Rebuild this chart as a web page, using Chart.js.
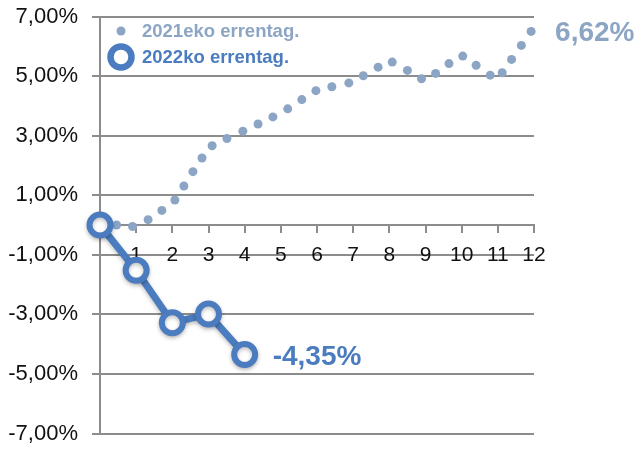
<!DOCTYPE html>
<html>
<head>
<meta charset="utf-8">
<script src="https://cdn.jsdelivr.net/npm/chart.js@4.4.1/dist/chart.umd.min.js"></script>
<style>
    html, body { margin: 0; padding: 0; background: #fff; }
    #wrap { width: 638px; height: 450px; }
</style>
</head>
<body>
<div id="wrap"><canvas id="rentaChart"></canvas></div>
<script>
// Datos
const monthTicks = [1, 2, 3, 4, 5, 6, 7, 8, 9, 10, 11, 12];
const yTicks = [-7, -5, -3, -1, 1, 3, 5, 7];

// 2021eko errentag. (puntos)
const x2021 = [0.46, 0.90, 1.33, 1.71, 2.07, 2.32, 2.57, 2.82, 3.10, 3.51, 3.95, 4.37, 4.78, 5.19, 5.58, 5.97,
               6.41, 6.88, 7.28, 7.69, 8.08, 8.50, 8.89, 9.28, 9.65, 10.03, 10.40, 10.79, 11.12, 11.38, 11.65, 11.92];
const y2021 = [0.00, -0.05, 0.18, 0.49, 0.84, 1.31, 1.79, 2.25, 2.66, 2.90, 3.15, 3.39, 3.63, 3.90, 4.21, 4.51,
               4.64, 4.77, 5.01, 5.30, 5.47, 5.19, 4.91, 5.09, 5.42, 5.67, 5.36, 5.03, 5.11, 5.56, 6.03, 6.50];

// 2022ko errentag. (linea)
const x2022 = [0, 1, 2, 3, 4];
const y2022 = [0, -1.52, -3.28, -2.99, -4.35];

const labels = ['2021eko errentag.', '2022ko errentag.'];
const endLabels = ['6,62%', '-4,35%'];

const color2021 = '#8da5c5';
const color2022 = '#4a7cbf';
const gridColor = '#8c8c8c';
const fontFamily = '"Liberation Sans", Arial, Helvetica, sans-serif';

function fmtPct(v) {
    return v.toFixed(2).replace('.', ',') + '%';
}

// Leyenda y etiquetas finales dibujadas encima
const overlayPlugin = {
    id: 'overlay',
    afterDraw(chart) {
        const ctx = chart.ctx;
        const xs = chart.scales.x;
        const ys = chart.scales.y;
        ctx.save();

        // leyenda
        ctx.textBaseline = 'middle';
        ctx.textAlign = 'left';
        ctx.font = 'bold 18.5px ' + fontFamily;

        ctx.fillStyle = color2021;
        ctx.beginPath();
        ctx.arc(121, 31, 4.5, 0, Math.PI * 2);
        ctx.fill();
        ctx.fillText(labels[0], 142, 32);

        ctx.strokeStyle = color2022;
        ctx.lineWidth = 6.5;
        ctx.fillStyle = '#fff';
        ctx.beginPath();
        ctx.arc(121, 57, 10.5, 0, Math.PI * 2);
        ctx.fill();
        ctx.stroke();
        ctx.fillStyle = color2022;
        ctx.fillText(labels[1], 142, 58);

        // etiquetas de los ultimos valores
        ctx.font = 'bold 28px ' + fontFamily;
        ctx.fillStyle = color2021;
        ctx.fillText(endLabels[0], xs.getPixelForValue(x2021[x2021.length - 1]) + 24, ys.getPixelForValue(y2021[y2021.length - 1]) + 2);
        ctx.fillStyle = color2022;
        ctx.fillText(endLabels[1], xs.getPixelForValue(x2022[x2022.length - 1]) + 28, ys.getPixelForValue(y2022[y2022.length - 1]) + 3);

        ctx.restore();
    }
};

// Sombra suave para la linea 2022
const shadowPlugin = {
    id: 'shadow',
    beforeDatasetDraw(chart, args) {
        if (args.index === 0) {
            const ctx = chart.ctx;
            ctx.save();
            ctx.shadowColor = 'rgba(0,0,0,0.25)';
            ctx.shadowBlur = 4;
            ctx.shadowOffsetY = 2;
        }
    },
    afterDatasetDraw(chart, args) {
        if (args.index === 0) chart.ctx.restore();
    }
};

const ctx = document.getElementById('rentaChart').getContext('2d');
const rentaChart = new Chart(ctx, {
    type: 'scatter',
    data: {
        datasets: [{
            label: labels[1],
            data: x2022.map((x, i) => ({ x: x, y: y2022[i] })),
            showLine: true,
            borderColor: color2022,
            borderWidth: 7,
            pointRadius: 10.5,
            pointBorderWidth: 6,
            pointBackgroundColor: '#fff',
            pointBorderColor: color2022,
            clip: false
        }, {
            label: labels[0],
            data: x2021.map((x, i) => ({ x: x, y: y2021[i] })),
            showLine: false,
            pointRadius: 4.5,
            pointBorderWidth: 0,
            pointBackgroundColor: color2021,
            clip: false
        }]
    },
    options: {
        responsive: true,
        maintainAspectRatio: false,
        animation: false,
        layout: {
            padding: { top: 16, right: 104, bottom: 14, left: 0 }
        },
        plugins: {
            legend: { display: false },
            tooltip: { enabled: false }
        },
        scales: {
            x: {
                type: 'linear',
                position: { y: 0 },
                min: 0,
                max: 12,
                afterBuildTicks: (scale) => {
                    scale.ticks = [0].concat(monthTicks).map(v => ({ value: v }));
                },
                ticks: {
                    color: '#111',
                    font: { size: 21, family: fontFamily },
                    padding: 11,
                    maxRotation: 0,
                    autoSkip: false,
                    callback: (v) => v === 0 ? '' : String(v)
                },
                grid: {
                    drawOnChartArea: false,
                    drawTicks: true,
                    tickLength: 7,
                    color: gridColor,
                    lineWidth: 2
                },
                border: { display: true, color: gridColor, width: 2 }
            },
            y: {
                type: 'linear',
                min: -7,
                max: 7,
                afterBuildTicks: (scale) => {
                    scale.ticks = yTicks.map(v => ({ value: v }));
                },
                afterFit: (scale) => {
                    scale.width = 100;
                    scale.paddingTop = 0;
                    scale.paddingBottom = 0;
                },
                ticks: {
                    color: '#111',
                    font: { size: 22, family: fontFamily },
                    padding: 14,
                    callback: (v) => fmtPct(v)
                },
                grid: {
                    color: gridColor,
                    lineWidth: 2,
                    tickLength: 8
                },
                border: { display: true, color: gridColor, width: 2 }
            }
        }
    },
    plugins: [shadowPlugin, overlayPlugin]
});
</script>
</body>
</html>
